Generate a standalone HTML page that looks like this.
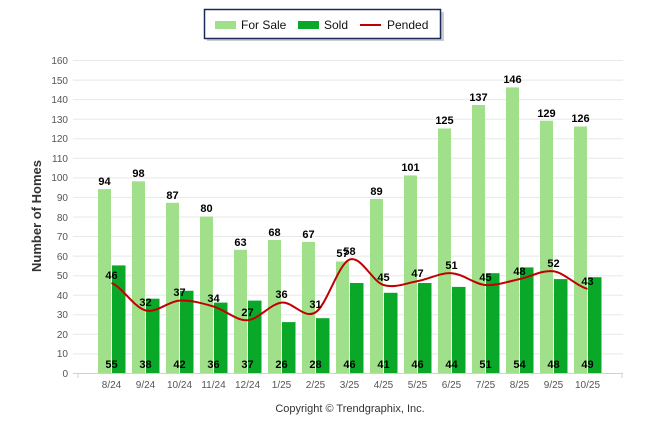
<!DOCTYPE html>
<html><head><meta charset="utf-8"><style>
html,body{margin:0;padding:0;background:#fff;}
svg{display:block;font-family:"Liberation Sans",Arial,sans-serif;}
.y{font-size:10px;fill:#555;text-anchor:end}
.x{font-size:10px;fill:#555;text-anchor:middle}
.l{font-size:11px;font-weight:bold;fill:#000;text-anchor:middle}
</style></head><body>
<svg width="646" height="434" viewBox="0 0 646 434">
<g stroke="#e8e8e8" stroke-width="1">
<line x1="73" x2="623" y1="60.5" y2="60.5"/><line x1="73" x2="623" y1="80.1" y2="80.1"/><line x1="73" x2="623" y1="99.6" y2="99.6"/><line x1="73" x2="623" y1="119.2" y2="119.2"/><line x1="73" x2="623" y1="138.7" y2="138.7"/><line x1="73" x2="623" y1="158.3" y2="158.3"/><line x1="73" x2="623" y1="177.9" y2="177.9"/><line x1="73" x2="623" y1="197.4" y2="197.4"/><line x1="73" x2="623" y1="217" y2="217"/><line x1="73" x2="623" y1="236.5" y2="236.5"/><line x1="73" x2="623" y1="256.1" y2="256.1"/><line x1="73" x2="623" y1="275.7" y2="275.7"/><line x1="73" x2="623" y1="295.2" y2="295.2"/><line x1="73" x2="623" y1="314.8" y2="314.8"/><line x1="73" x2="623" y1="334.3" y2="334.3"/><line x1="73" x2="623" y1="353.9" y2="353.9"/>
</g>
<line x1="73" x2="623" y1="373.5" y2="373.5" stroke="#d0d0d0"/>
<g stroke="#d0d0d0"><line x1="78" x2="78" y1="373" y2="378"/><line x1="622" x2="622" y1="373" y2="378"/></g>
<g class="y">
<text x="68" y="64">160</text><text x="68" y="84">150</text><text x="68" y="103">140</text><text x="68" y="123">130</text><text x="68" y="142">120</text><text x="68" y="162">110</text><text x="68" y="181">100</text><text x="68" y="201">90</text><text x="68" y="221">80</text><text x="68" y="240">70</text><text x="68" y="260">60</text><text x="68" y="279">50</text><text x="68" y="299">40</text><text x="68" y="318">30</text><text x="68" y="338">20</text><text x="68" y="357">10</text><text x="68" y="377">0</text>
</g>
<text transform="translate(41,216) rotate(-90)" text-anchor="middle" font-size="13" font-weight="bold" fill="#333">Number of Homes</text>
<g fill="#a0e08a">
<rect x="98" y="189.1" width="13" height="183.9"/><rect x="132" y="181.3" width="13" height="191.7"/><rect x="166" y="202.8" width="13" height="170.2"/><rect x="200" y="216.5" width="13" height="156.5"/><rect x="234" y="249.8" width="13" height="123.2"/><rect x="268" y="240" width="13" height="133"/><rect x="302" y="241.9" width="13" height="131.1"/><rect x="336" y="261.5" width="13" height="111.5"/><rect x="370" y="198.9" width="13" height="174.1"/><rect x="404" y="175.4" width="13" height="197.6"/><rect x="438" y="128.5" width="13" height="244.5"/><rect x="472" y="105" width="13" height="268"/><rect x="506" y="87.4" width="13" height="285.6"/><rect x="540" y="120.7" width="13" height="252.3"/><rect x="574" y="126.5" width="13" height="246.5"/>
</g>
<g fill="#0aa828">
<rect x="112" y="265.4" width="13.5" height="107.6"/><rect x="146" y="298.7" width="13.5" height="74.3"/><rect x="180" y="290.8" width="13.5" height="82.2"/><rect x="214" y="302.6" width="13.5" height="70.4"/><rect x="248" y="300.6" width="13.5" height="72.4"/><rect x="282" y="322.1" width="13.5" height="50.9"/><rect x="316" y="318.2" width="13.5" height="54.8"/><rect x="350" y="283" width="13.5" height="90"/><rect x="384" y="292.8" width="13.5" height="80.2"/><rect x="418" y="283" width="13.5" height="90"/><rect x="452" y="286.9" width="13.5" height="86.1"/><rect x="486" y="273.2" width="13.5" height="99.8"/><rect x="520" y="267.4" width="13.5" height="105.6"/><rect x="554" y="279.1" width="13.5" height="93.9"/><rect x="588" y="277.2" width="13.5" height="95.8"/>
</g>
<path fill="none" stroke="#c00000" stroke-width="2" d="M111.5,283 C122.8,287.6 134.2,307.5 145.5,310.4 C156.8,313.3 168.2,301.25 179.5,300.6 C190.8,299.95 202.2,303.23 213.5,306.5 C224.8,309.77 236.2,320.85 247.5,320.2 C258.8,319.55 270.2,303.9 281.5,302.6 C292.8,301.3 304.2,319.57 315.5,312.4 C326.8,305.23 338.2,264.17 349.5,259.6 C360.8,255.03 372.2,281.42 383.5,285 C394.8,288.58 406.2,283.07 417.5,281.1 C428.8,279.13 440.2,272.55 451.5,273.2 C462.8,273.85 474.2,284.02 485.5,285 C496.8,285.98 508.2,281.38 519.5,279.1 C530.8,276.82 542.2,269.67 553.5,271.3 C564.8,272.93 576.2,285.97 587.5,288.9"/>
<g class="l">
<text x="104.5" y="185">94</text><text x="138.5" y="177">98</text><text x="172.5" y="199">87</text><text x="206.5" y="212">80</text><text x="240.5" y="246">63</text><text x="274.5" y="236">68</text><text x="308.5" y="238">67</text><text x="342.5" y="257">57</text><text x="376.5" y="195">89</text><text x="410.5" y="171">101</text><text x="444.5" y="124">125</text><text x="478.5" y="101">137</text><text x="512.5" y="83">146</text><text x="546.5" y="117">129</text><text x="580.5" y="122">126</text>
</g>
<g class="l">
<text x="111.5" y="368">55</text><text x="145.5" y="368">38</text><text x="179.5" y="368">42</text><text x="213.5" y="368">36</text><text x="247.5" y="368">37</text><text x="281.5" y="368">26</text><text x="315.5" y="368">28</text><text x="349.5" y="368">46</text><text x="383.5" y="368">41</text><text x="417.5" y="368">46</text><text x="451.5" y="368">44</text><text x="485.5" y="368">51</text><text x="519.5" y="368">54</text><text x="553.5" y="368">48</text><text x="587.5" y="368">49</text>
</g>
<g class="l">
<text x="111.5" y="279">46</text><text x="145.5" y="306">32</text><text x="179.5" y="296">37</text><text x="213.5" y="302">34</text><text x="247.5" y="316">27</text><text x="281.5" y="298">36</text><text x="315.5" y="308">31</text><text x="349.5" y="255">58</text><text x="383.5" y="281">45</text><text x="417.5" y="277">47</text><text x="451.5" y="269">51</text><text x="485.5" y="281">45</text><text x="519.5" y="275">48</text><text x="553.5" y="267">52</text><text x="587.5" y="285">43</text>
</g>
<g class="x">
<text x="111.5" y="388">8/24</text><text x="145.5" y="388">9/24</text><text x="179.5" y="388">10/24</text><text x="213.5" y="388">11/24</text><text x="247.5" y="388">12/24</text><text x="281.5" y="388">1/25</text><text x="315.5" y="388">2/25</text><text x="349.5" y="388">3/25</text><text x="383.5" y="388">4/25</text><text x="417.5" y="388">5/25</text><text x="451.5" y="388">6/25</text><text x="485.5" y="388">7/25</text><text x="519.5" y="388">8/25</text><text x="553.5" y="388">9/25</text><text x="587.5" y="388">10/25</text>
</g>
<text x="350" y="412" text-anchor="middle" font-size="11" fill="#333">Copyright © Trendgraphix, Inc.</text>
<rect x="207" y="12" width="237" height="29" fill="#999" opacity="0.5"/>
<rect x="204.5" y="9.5" width="236" height="29" fill="#fff" stroke="#1a2a5a" stroke-width="1.5"/>
<rect x="215" y="21" width="21" height="8" fill="#a0e08a"/>
<text x="241" y="29" font-size="12" fill="#111">For Sale</text>
<rect x="298" y="21" width="21" height="8" fill="#0aa828"/>
<text x="324" y="29" font-size="12" fill="#111">Sold</text>
<line x1="360" x2="381" y1="25" y2="25" stroke="#c00000" stroke-width="2"/>
<text x="387" y="29" font-size="12" fill="#111">Pended</text>
</svg>
</body></html>
